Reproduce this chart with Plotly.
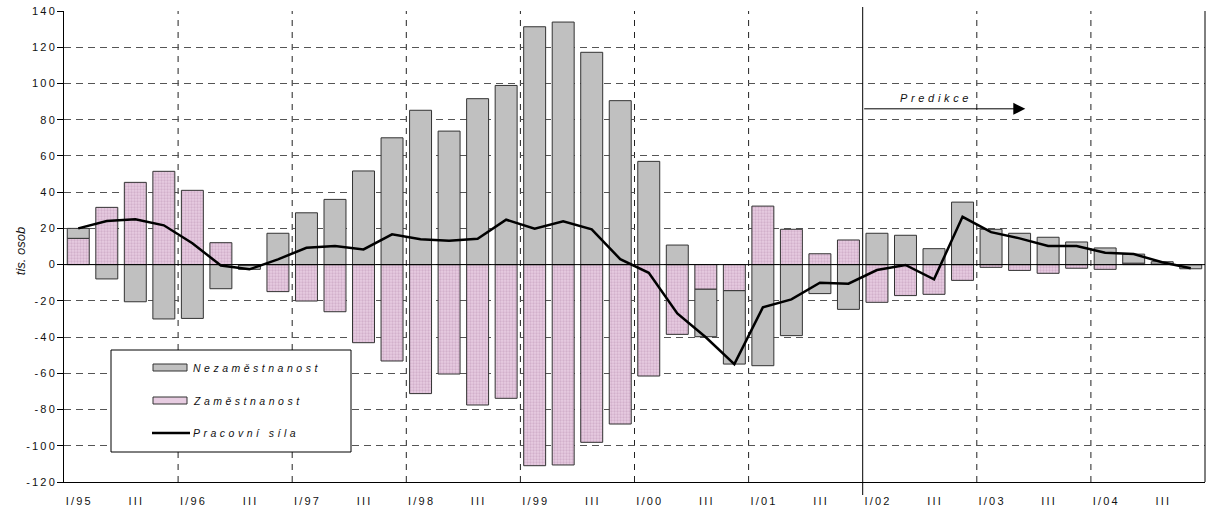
import plotly.graph_objects as go

# Quarterly changes, thousands of persons (1995 Q1 .. 2004 Q4)
roman = ["I", "II", "III", "IV"]
years = ["95", "96", "97", "98", "99", "00", "01", "02", "03", "04"]
quarters = [f"{q}/{y}" for y in years for q in roman]

# Nezaměstnanost (unemployment) contribution
nezamestnanost = [5.5, -7.9, -20.5, -30.0, -29.7, -13.3, -2.2, 17.3,
                  28.6, 36.0, 51.7, 70.0, 85.2, 73.7, 91.6, 98.9,
                  131.3, 133.9, 117.2, 90.5, 57.0, 10.8, -26.2, -40.5,
                  -55.8, -39.2, -16.0, -24.7, 17.3, 16.2, 8.8, 34.5,
                  19.5, 17.3, 15.1, 12.5, 9.2, 5.0, 1.3, -2.2]

# Zaměstnanost (employment) contribution
zamestnanost = [14.5, 31.6, 45.4, 51.5, 41.0, 12.1, -0.4, -14.9,
                -20.1, -26.0, -43.1, -53.2, -71.2, -60.4, -77.5, -73.8,
                -111.0, -110.6, -98.1, -88.0, -61.5, -38.5, -13.6, -14.4,
                32.3, 19.5, 6.0, 13.6, -20.8, -17.1, -16.4, -8.7,
                -1.5, -3.2, -4.8, -2.0, -2.6, 0.8, 0.3, -0.1]

# Pracovní síla (labour force)
pracovni_sila = [20.0, 24.1, 25.0, 21.7, 11.8, -0.5, -2.6, 2.9,
                 9.3, 10.3, 8.4, 16.7, 14.0, 13.2, 14.3, 24.8,
                 19.8, 23.9, 19.5, 3.0, -4.5, -26.9, -40.1, -54.9,
                 -23.6, -19.2, -10.0, -10.5, -3.0, -0.2, -8.1, 26.4,
                 17.9, 14.5, 10.3, 10.3, 6.6, 5.8, 1.3, -2.0]

y_ticks = list(range(-120, 141, 20))
forecast_start = "I/02"

SP = "\u2009"   # thin space used for the wide letter spacing
WSP = "\u2004"  # wider spacing for the italic captions


def spaced(s, sep=SP):
    return sep.join(list(s))


FONT = "Liberation Sans, Arial, sans-serif"
W, H = 1206, 511
L, R, T, B = 64, 1, 11, 29
PW, PH = W - L - R, H - T - B


def px_x(p):
    return (p - L) / PW


def px_y(p):
    return (H - B - p) / PH


GREY = "#C0C0C0"
PINK_BG = "#E7CCE1"
PINK_FG = "#BD94B6"
EDGE = "#333333"

x_idx = list(range(len(quarters)))

fig = go.Figure()

# employment first so it sits next to the zero line in the relative stack
fig.add_trace(go.Bar(
    x=x_idx, y=zamestnanost, name="Zaměstnanost", showlegend=False,
    marker=dict(color=PINK_BG, line=dict(color=EDGE, width=1),
                pattern=dict(shape=".", bgcolor=PINK_BG, fgcolor=PINK_FG,
                             size=3, solidity=0.45)),
))
fig.add_trace(go.Bar(
    x=x_idx, y=nezamestnanost, name="Nezaměstnanost", showlegend=False,
    marker=dict(color=GREY, line=dict(color=EDGE, width=1)),
))
fig.add_trace(go.Scatter(
    x=x_idx, y=pracovni_sila, name="Pracovní síla", mode="lines",
    showlegend=False, line=dict(color="black", width=2.5),
))

shapes = []
# year boundaries: dashed vertical grid
for i, q in enumerate(quarters):
    if q.startswith("I/") and i > 0:
        if q == forecast_start:
            continue
        shapes.append(dict(type="line", xref="x", yref="paper",
                           x0=i - 0.5, x1=i - 0.5, y0=0, y1=1,
                           line=dict(color="#222", width=1, dash="6px,6px"),
                           layer="below"))
# forecast divider
fi = quarters.index(forecast_start)
shapes.append(dict(type="line", xref="x", yref="paper",
                   x0=fi - 0.5, x1=fi - 0.5, y0=px_y(495), y1=px_y(7),
                   line=dict(color="black", width=1)))
# zero line
shapes.append(dict(type="line", xref="paper", yref="y", x0=0, x1=1,
                   y0=0, y1=0, line=dict(color="black", width=1)))
# right border
shapes.append(dict(type="line", xref="paper", yref="paper", x0=1, x1=1,
                   y0=0, y1=1, line=dict(color="black", width=1)))

# legend box
shapes.append(dict(type="rect", xref="paper", yref="paper",
                   x0=px_x(111), x1=px_x(351), y0=px_y(452), y1=px_y(350),
                   fillcolor="white", line=dict(color="black", width=1)))
shapes.append(dict(type="rect", xref="paper", yref="paper",
                   x0=px_x(153), x1=px_x(187), y0=px_y(371), y1=px_y(364),
                   fillcolor=GREY, line=dict(color=EDGE, width=1)))
shapes.append(dict(type="rect", xref="paper", yref="paper",
                   x0=px_x(153), x1=px_x(187), y0=px_y(404), y1=px_y(397),
                   fillcolor=PINK_BG, line=dict(color=EDGE, width=1)))
shapes.append(dict(type="line", xref="paper", yref="paper",
                   x0=px_x(152), x1=px_x(190), y0=px_y(433), y1=px_y(433),
                   line=dict(color="black", width=2.5)))

legend_font = dict(family=FONT, size=10.5, color="#111", style="italic")
annotations = [
    dict(xref="paper", yref="paper", x=px_x(191), y=px_y(367.5),
         xanchor="left", yanchor="middle", showarrow=False,
         text=spaced("Nezaměstnanost", WSP), font=legend_font),
    dict(xref="paper", yref="paper", x=px_x(191), y=px_y(400.5),
         xanchor="left", yanchor="middle", showarrow=False,
         text=spaced("Zaměstnanost", WSP), font=legend_font),
    dict(xref="paper", yref="paper", x=px_x(191), y=px_y(433),
         xanchor="left", yanchor="middle", showarrow=False,
         text=spaced("Pracovní síla", WSP), font=legend_font),
    # y axis title
    dict(xref="paper", yref="paper", x=px_x(20), y=0.49, textangle=-90,
         xanchor="center", yanchor="middle", showarrow=False,
         text="tis. osob",
         font=dict(family=FONT, size=13, color="#111", style="italic")),
    # forecast arrow and label
    dict(xref="x", yref="y", axref="x", ayref="y",
         x=33.2, y=86, ax=fi - 0.5, ay=86, text="", showarrow=True,
         arrowhead=2, arrowsize=2.4, arrowwidth=1, arrowcolor="black"),
    dict(xref="x", yref="y", x=30.0, y=86, yshift=11, showarrow=False,
         text=spaced("Predikce", WSP),
         font=dict(family=FONT, size=11, color="#111", style="italic")),
]

tick_pos = [i for i, q in enumerate(quarters) if q.split("/")[0] in ("I", "III")]
tick_txt = [spaced(quarters[i]) if quarters[i].startswith("I/") else spaced("III")
            for i in tick_pos]

fig.update_layout(
    width=W, height=H,
    margin=dict(l=L, r=R, t=T, b=B),
    paper_bgcolor="white", plot_bgcolor="white",
    barmode="relative", bargap=0.23,
    font=dict(family=FONT, size=11, color="#111"),
    showlegend=False,
    shapes=shapes, annotations=annotations,
    xaxis=dict(
        range=[-0.5, len(quarters) - 0.5],
        tickvals=tick_pos, ticktext=tick_txt,
        showgrid=False, zeroline=False,
        showline=True, linecolor="black", linewidth=1,
        ticks="", ticklabelstandoff=9,
        tickfont=dict(family=FONT, size=11, color="#111"),
    ),
    yaxis=dict(
        range=[-120, 140],
        tickvals=y_ticks, ticktext=[spaced(str(v)) for v in y_ticks],
        showgrid=True, gridcolor="#555", griddash="7px,5px", gridwidth=1,
        zeroline=False,
        showline=True, linecolor="black", linewidth=1,
        ticks="outside", ticklen=6, tickcolor="black",
        tickfont=dict(family=FONT, size=11, color="#111"),
    ),
)

fig.write_html("out.html")
